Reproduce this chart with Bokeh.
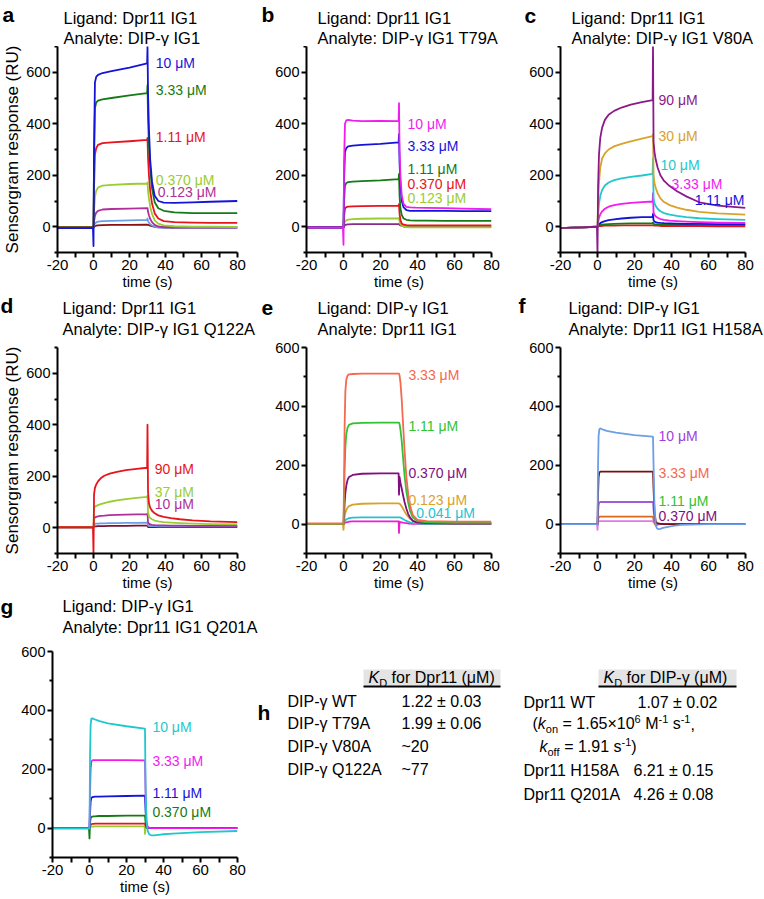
from bokeh.plotting import figure
from bokeh.models import Range1d, FixedTicker, Label
from bokeh.layouts import row, column
from bokeh.embed import file_html
from bokeh.resources import INLINE

FONT = "Liberation Sans"

# ---------------- data (time in s, response in RU) ----------------
T_AB = [-20, -0.3, 0.0, 0.3, 0.8, 1.5, 2.5, 5, 10, 20, 29.8, 30.0, 30.3, 30.8, 31.5, 32.5, 34, 36, 39, 45, 55, 65, 80]
T_CD = [-20, -0.3, 0.0, 0.3, 0.8, 1.5, 2.5, 4, 6, 9, 13, 18, 24, 29.8, 30.0, 30.3, 30.8, 31.5, 32.5, 34, 36, 39, 43, 48, 55, 65, 80]
T_EFG = [-20, -0.3, 0.0, 0.3, 0.6, 1.0, 1.5, 2.2, 3, 5, 10, 20, 29.8, 30.0, 30.3, 30.8, 31.5, 32.2, 33, 34, 35, 36, 37.5, 40, 45, 60, 80]

# a: Ligand Dpr11 IG1 / Analyte DIP-g IG1
A_10 = [-5, -5, -75, 300, 560, 582, 590, 597, 604, 618, 634, 700, 520, 380, 260, 175, 120, 100, 94, 93, 95, 97, 100]
A_333 = [-3, -3, -3, 250, 460, 482, 490, 495, 500, 510, 519, 550, 420, 320, 230, 150, 95, 72, 62, 56, 53, 53, 53]
A_111 = [-2, -2, -2, 150, 280, 305, 318, 325, 328, 332, 337, 345, 270, 200, 140, 90, 52, 32, 22, 18, 16, 15, 15]
A_037 = [-2, -2, -2, 60, 115, 140, 152, 160, 163, 166, 168, 172, 140, 110, 78, 50, 25, 12, 5, 2, 0, 0, -1]
A_012 = [-3, -3, -3, 20, 42, 55, 62, 67, 69, 70, 72, 72, 58, 45, 30, 18, 7, 1, -2, -3, -3, -3, -3]
A_004 = [-4, -4, -4, 5, 12, 17, 20, 22, 23, 25, 27, 32, 22, 16, 10, 5, 0, -3, -4, -5, -5, -5, -5]
A_001 = [-3, -3, -3, 0, 2, 4, 5, 6, 7, 7, 8, 8, 7, 6, 4, 2, 0, -1, -2, -2, -2, -2, -2]

# b: T79A
B_10 = [-3, -3, -70, 250, 400, 413, 415, 412, 410, 411, 410, 480, 300, 190, 120, 88, 77, 75, 74, 73, 72, 70, 68]
B_333 = [-3, -3, -3, 180, 290, 305, 312, 315, 318, 322, 328, 360, 250, 160, 100, 75, 65, 62, 62, 62, 62, 61, 61]
B_111 = [-2, -2, -2, 100, 160, 170, 173, 175, 177, 180, 185, 205, 120, 70, 45, 32, 27, 25, 24, 24, 23, 23, 23]
B_037 = [-2, -2, -2, 40, 70, 76, 78, 79, 80, 81, 82, 88, 50, 25, 12, 8, 6, 5, 5, 5, 5, 5, 5]
B_012 = [-3, -3, -3, 10, 20, 25, 28, 30, 31, 32, 32, 34, 20, 10, 4, 1, -1, -2, -2, -2, -2, -2, -2]
B_004 = [-2, -2, -2, 3, 6, 8, 9, 10, 10, 10, 10, 11, 8, 5, 3, 1, 0, 0, 0, 0, 0, 0, 0]

# c: V80A
C_90 = [-5, 0, -100, 150, 280, 345, 385, 415, 435, 450, 463, 474, 484, 492, 700, 330, 290, 260, 230, 200, 178, 158, 138, 118, 95, 82, 73]
C_30 = [-5, 0, 0, 80, 170, 230, 265, 285, 300, 312, 322, 332, 342, 352, 360, 200, 170, 150, 130, 110, 96, 84, 74, 66, 58, 52, 47]
C_10 = [-5, 0, 0, 40, 90, 120, 143, 160, 172, 181, 188, 194, 199, 205, 265, 110, 92, 80, 70, 60, 53, 47, 42, 37, 33, 30, 27]
C_333 = [-5, 0, 0, 15, 35, 48, 60, 70, 78, 84, 89, 93, 96, 98, 130, 55, 46, 40, 35, 30, 27, 24, 22, 20, 18, 16, 15]
C_111 = [-5, 0, 0, 5, 10, 14, 18, 22, 26, 29, 32, 35, 37, 38, 50, 25, 20, 18, 16, 15, 14, 13, 12, 11, 11, 10, 10]
C_037 = [-5, 0, 0, 2, 4, 6, 8, 9, 10, 11, 12, 13, 13, 14, 16, 11, 10, 9, 9, 8, 8, 7, 7, 7, 6, 6, 6]
C_012 = [-5, 0, 0, 1, 2, 3, 3, 4, 4, 4, 5, 5, 5, 5, 6, 5, 4, 4, 4, 3, 3, 3, 3, 3, 3, 2, 2]

# d: Q122A
D_90 = [2, 2, -100, 130, 155, 168, 180, 192, 202, 210, 217, 224, 229, 233, 400, 140, 95, 78, 66, 56, 48, 42, 37, 33, 29, 25, 22]
D_37 = [2, 2, 2, 78, 82, 85, 88, 92, 96, 101, 106, 111, 116, 120, 125, 60, 45, 38, 33, 28, 25, 22, 20, 18, 16, 14, 13]
D_10 = [2, 2, 2, 35, 40, 42, 44, 46, 47, 49, 50, 51, 52, 53, 55, 22, 16, 13, 11, 10, 9, 9, 8, 8, 7, 7, 7]
D_3 = [2, 2, 2, 12, 15, 16, 16, 17, 17, 18, 18, 19, 19, 20, 20, 9, 7, 6, 6, 6, 5, 5, 5, 5, 5, 5, 5]
D_1 = [2, 2, 2, 4, 5, 5, 6, 6, 6, 7, 7, 7, 8, 8, 8, 3, 3, 3, 3, 3, 3, 3, 3, 3, 3, 3, 3]

# e: Ligand DIP-g IG1 / Analyte Dpr11 IG1
E_333 = [2, 2, 2, 150, 330, 450, 490, 505, 509, 510, 511, 511, 511, 511, 505, 480, 420, 340, 250, 160, 100, 62, 30, 14, 10, 8, 8]
E_111 = [0, 0, 0, 80, 180, 260, 305, 328, 337, 342, 344, 345, 345, 345, 340, 320, 280, 225, 165, 110, 72, 44, 22, 10, 6, 4, 4]
E_037 = [0, 0, 0, 30, 70, 105, 130, 150, 160, 167, 171, 172, 172, 100, 160, 140, 120, 98, 75, 52, 34, 22, 11, 5, 3, 2, 2]
E_012 = [0, 0, -20, 10, 25, 38, 48, 56, 61, 66, 69, 70, 70, 70, 69, 66, 60, 52, 43, 33, 25, 18, 11, 5, 3, 2, 2]
E_004 = [0, 0, 0, 4, 9, 13, 16, 18, 20, 22, 23, 23, 23, 23, 23, 22, 20, 17, 14, 11, 8, 6, 4, 2, 1, 0, 0]
E_001 = [0, 0, 0, 2, 4, 5, 6, 7, 8, 9, 9, 9, 9, -30, 8, 7, 6, 5, 4, 3, 2, 2, 1, 1, 0, 0, 0]

# f: H158A
F_10 = [0, 0, 0, 200, 300, 322, 325, 323, 321, 317, 311, 302, 297, 296, 200, 60, -5, -15, -17, -16, -14, -12, -10, -7, -3, 0, 0]
F_333 = [0, 0, 0, 100, 160, 175, 178, 178, 178, 178, 178, 178, 178, 178, 120, 40, 8, 3, 2, 1, 1, 0, 0, 0, 0, 0, 0]
F_111 = [0, 0, 0, 40, 65, 73, 75, 75, 75, 75, 75, 75, 75, 75, 50, 15, 3, 1, 0, 0, 0, 0, 0, 0, 0, 0, 0]
F_037 = [0, 0, 0, 12, 22, 25, 25, 25, 25, 25, 25, 25, 25, 25, 15, 5, -5, -3, -1, 0, 0, 0, 0, 0, 0, 0, 0]
F_012 = [0, 0, -20, 5, 9, 10, 10, 10, 10, 10, 10, 10, 10, 10, 6, 2, 0, 0, 0, 0, 0, 0, 0, 0, 0, 0, 0]

# g: Q201A
G_10 = [-2, -2, -2, 250, 350, 372, 373, 371, 369, 364, 356, 346, 338, 337, 150, 20, -10, -20, -24, -25, -25, -24, -23, -21, -19, -14, -10]
G_333 = [0, 0, 0, 120, 200, 225, 230, 231, 231, 231, 231, 231, 230, 230, 120, 20, 3, 1, 1, 0, 0, 0, 0, 0, 0, 0, 0]
G_111 = [0, 0, 0, 50, 90, 102, 105, 106, 107, 107, 108, 109, 110, 110, 60, 10, 2, 1, 0, 0, 0, 0, 0, 0, 0, 0, 0]
G_037 = [0, 0, -35, 18, 32, 37, 39, 40, 40, 41, 41, 42, 42, 42, 20, 3, 0, 0, 0, 0, 0, 0, 0, 0, 0, 0, 0]
G_012 = [0, 0, 0, 6, 11, 13, 14, 14, 15, 15, 15, 15, 15, 15, 8, 2, 0, 0, 0, 0, 0, 0, 0, 0, 0, 0, 0]
G_004 = [0, 0, 0, 2, 4, 5, 5, 5, 6, 6, 6, 6, 6, -20, 3, 1, 0, 0, 0, 0, 0, 0, 0, 0, 0, 0, 0]

# concentration labels: (text, color, x [s], y [RU])
LAB_A = [("10 μM", "#1414d8", 34.6, 635), ("3.33 μM", "#157a15", 34.6, 530), ("1.11 μM", "#e8141c", 34.6, 349),
         ("0.370 μM", "#9acd32", 34.6, 182), ("0.123 μM", "#b0309a", 35.7, 136)]
LAB_B = [("10 μM", "#f01cf0", 34.6, 399), ("3.33 μM", "#1414d8", 34.6, 314), ("1.11 μM", "#157a15", 34.6, 225),
         ("0.370 μM", "#e8141c", 34.6, 167), ("0.123 μM", "#9acd32", 34.6, 112)]
LAB_C = [("90 μM", "#8a1a8a", 33.0, 492), ("30 μM", "#d9a22b", 33.0, 353), ("10 μM", "#1ec8cc", 34.0, 240),
         ("3.33 μM", "#f01cf0", 40.0, 166), ("1.11 μM", "#1414d8", 52.5, 105)]
LAB_D = [("90 μM", "#e8141c", 34.0, 229), ("37 μM", "#9acd32", 34.0, 140), ("10 μM", "#b0309a", 34.0, 93)]
LAB_E = [("3.33 μM", "#f5694f", 35.1, 508), ("1.11 μM", "#33c233", 35.1, 332), ("0.370 μM", "#80107f", 35.1, 173),
         ("0.123 μM", "#d9a22b", 35.1, 81), ("0.041 μM", "#22c4d4", 39.3, 37)]
LAB_F = [("10 μM", "#a040e0", 33.0, 298), ("3.33 μM", "#f5694f", 33.0, 173), ("1.11 μM", "#33c233", 33.0, 78),
         ("0.370 μM", "#80107f", 33.0, 27)]
LAB_G = [("10 μM", "#1ec8cc", 34.0, 345), ("3.33 μM", "#f01cf0", 34.0, 229), ("1.11 μM", "#1414d8", 34.0, 119),
         ("0.370 μM", "#157a15", 34.0, 55)]

TITLES = {
    "a": ("Ligand: Dpr11 IG1", "Analyte: DIP-γ IG1"),
    "b": ("Ligand: Dpr11 IG1", "Analyte: DIP-γ IG1 T79A"),
    "c": ("Ligand: Dpr11 IG1", "Analyte: DIP-γ IG1 V80A"),
    "d": ("Ligand: Dpr11 IG1", "Analyte: DIP-γ IG1 Q122A"),
    "e": ("Ligand: DIP-γ IG1", "Analyte: Dpr11 IG1"),
    "f": ("Ligand: DIP-γ IG1", "Analyte: Dpr11 IG1 H158A"),
    "g": ("Ligand: DIP-γ IG1", "Analyte: Dpr11 IG1 Q201A"),
}

X_TICKS = [-20, 0, 20, 40, 60, 80]
X_MINOR = [-10, 10, 30, 50, 70]
Y_TICKS = [0, 200, 400, 600]
Y_MINOR_700 = [-100, 100, 300, 500, 700]
Y_MINOR_600 = [-100, 100, 300, 500]

# table (panel h)
H_LEFT_NAMES = ["DIP-γ WT", "DIP-γ T79A", "DIP-γ V80A", "DIP-γ Q122A"]
H_LEFT_VALUES = ["1.22 ± 0.03", "1.99 ± 0.06", "~20", "~77"]
H_RIGHT_NAMES = ["Dpr11 WT", "Dpr11 H158A", "Dpr11 Q201A"]
H_RIGHT_VALUES = ["1.07 ± 0.02", "6.21 ± 0.15", "4.26 ± 0.08"]
H_KON = [("(", "n"), ("k", "i"), ("on", "sub"), (" = 1.65×10", "n"), ("6", "sup"), (" M", "n"), ("-1", "sup"),
         (" s", "n"), ("-1", "sup"), (",", "n")]
H_KOFF = [("k", "i"), ("off", "sub"), (" = 1.91 s", "n"), ("-1", "sup"), (")", "n")]
H_HEAD_L = [("K", "i"), ("D", "sub"), (" for Dpr11 (μM)", "n")]
H_HEAD_R = [("K", "i"), ("D", "sub"), (" for DIP-γ (μM)", "n")]

# ---------------- layout geometry (page pixels, page has no margin) ----------------
PAGE_W = 764
ROW_TOP = [0, 292, 594]
ROW_HEAD = [46, 46, 46]     # header strip (letters + titles) for each row
ROW_PLOT = [246, 256, 259]  # plot figure height
ROW_T = [0, 9, 11]
ROW_B = [40, 41, 42]
COL_LEFT = [0, 250, 500]
COL_W = [250, 250, 264]
COL_L = [52, 56, 60]
COL_R = [13, 9, 19]

ROW_KEYS = [["a", "b", "c"], ["d", "e", "f"], ["g"]]
LETTER_POS = {"a": (2, 14), "b": (261, 14), "c": (524, 15), "d": (0, 305), "e": (261, 307),
              "f": (518, 305), "g": (0, 606)}
TITLE_POS = {"a": (63, 17, 37.5), "b": (317, 17, 37.5), "c": (571, 17, 37.5), "d": (62, 307, 328),
             "e": (317, 307, 328), "f": (568, 307, 328), "g": (62, 605, 626)}


def no_align(p):
    try:
        p.frame_align = False
    except Exception:
        pass


def style_axes(p):
    for ax in (p.xaxis[0], p.yaxis[0]):
        ax.axis_line_width = 2
        ax.axis_line_color = "black"
        ax.major_tick_line_width = 2
        ax.minor_tick_line_width = 2
        ax.major_tick_line_color = "black"
        ax.minor_tick_line_color = "black"
        ax.major_tick_in = 0
        ax.minor_tick_in = 0
        ax.major_label_text_font = FONT
        ax.major_label_text_color = "black"
        ax.axis_label_text_font = FONT
        ax.axis_label_text_font_style = "normal"
        ax.axis_label_text_color = "black"
    p.xaxis.major_label_text_font_size = "15px"
    p.yaxis.major_label_text_font_size = "14.5px"
    p.xaxis.major_tick_out = 5
    p.xaxis.minor_tick_out = 5
    p.xaxis.major_label_standoff = 2
    p.xaxis.major_label_overrides = {-20: "-20"}
    p.yaxis.major_tick_out = 5
    p.yaxis.minor_tick_out = 3
    p.yaxis.major_label_standoff = 2
    p.xaxis.axis_label = "time (s)"
    p.xaxis.axis_label_text_font_size = "15px"
    p.xaxis.axis_label_standoff = 0


def make_header(r):
    H = ROW_HEAD[r]
    y0 = ROW_TOP[r]
    h = figure(width=PAGE_W, height=H, x_range=Range1d(0, PAGE_W), y_range=Range1d(H, 0),
               output_backend="svg", toolbar_location=None, title=None,
               x_axis_location=None, y_axis_location=None, min_border=0)
    no_align(h)
    h.outline_line_color = None
    h.grid.visible = False
    for key in ROW_KEYS[r]:
        lx, ly = LETTER_POS[key]
        h.add_layout(Label(x=lx, y=ly - y0, text=key, text_color="black", text_font=FONT,
                           text_font_size="21px", text_font_style="bold", text_align="left",
                           text_baseline="middle"))
        tx, ty1, ty2 = TITLE_POS[key]
        for line, ty in zip(TITLES[key], (ty1, ty2)):
            h.add_layout(Label(x=tx, y=ty - y0, text=line, text_color="black", text_font=FONT,
                               text_font_size="16.5px", text_align="left", text_baseline="middle"))
    return h


def make_panel(r, c, yr, yminor, t, curves, labels, ylabel=None):
    W, H = COL_W[c], ROW_PLOT[r]
    p = figure(width=W, height=H, x_range=Range1d(-20, 80), y_range=Range1d(*yr),
               output_backend="svg", toolbar_location=None, title=None,
               min_border_left=COL_L[c], min_border_right=COL_R[c],
               min_border_top=ROW_T[r], min_border_bottom=ROW_B[r])
    no_align(p)
    p.outline_line_color = None
    p.grid.visible = False
    p.background_fill_color = "white"
    p.border_fill_color = "white"
    p.xaxis.ticker = FixedTicker(ticks=X_TICKS, minor_ticks=X_MINOR)
    p.yaxis.ticker = FixedTicker(ticks=Y_TICKS, minor_ticks=yminor)
    style_axes(p)
    if ylabel:
        p.yaxis.axis_label = ylabel
        p.yaxis.axis_label_text_font_size = "17px"
        p.yaxis.axis_label_standoff = 1

    for vals, col in curves:
        p.line(t, vals, line_color=col, line_width=1.8, line_join="round")

    for text, col, x, y in labels:
        p.add_layout(Label(x=x, y=y, text=text, text_color=col, text_font=FONT, text_font_size="14px",
                           text_align="left", text_baseline="middle"))
    return p


pa = make_panel(0, 0, (-100, 700), Y_MINOR_700, T_AB,
                [(A_001, "#8b1010"), (A_004, "#6c9ee8"), (A_012, "#b0309a"), (A_037, "#9acd32"),
                 (A_111, "#e8141c"), (A_333, "#157a15"), (A_10, "#1414d8")], LAB_A,
                ylabel="Sensorgram response (RU)")
pb = make_panel(0, 1, (-100, 700), Y_MINOR_700, T_AB,
                [(B_004, "#8b2a8b"), (B_012, "#9acd32"), (B_037, "#e8141c"), (B_111, "#157a15"),
                 (B_333, "#1414d8"), (B_10, "#f01cf0")], LAB_B)
pc = make_panel(0, 2, (-100, 700), Y_MINOR_700, T_CD,
                [(C_012, "#e8141c"), (C_037, "#157a15"), (C_111, "#1414d8"), (C_333, "#f01cf0"),
                 (C_10, "#1ec8cc"), (C_30, "#d9a22b"), (C_90, "#8a1a8a")], LAB_C)
pd = make_panel(1, 0, (-100, 700), Y_MINOR_700, T_CD,
                [(D_1, "#7a1030"), (D_3, "#6c9ee8"), (D_10, "#b0309a"), (D_37, "#9acd32"),
                 (D_90, "#e8141c")], LAB_D, ylabel="Sensorgram response (RU)")
pe = make_panel(1, 1, (-100, 600), Y_MINOR_600, T_EFG,
                [(E_001, "#f01cd0"), (E_004, "#22c4d4"), (E_012, "#d9a22b"), (E_037, "#80107f"),
                 (E_111, "#33c233"), (E_333, "#f5694f")], LAB_E)
pf = make_panel(1, 2, (-100, 600), Y_MINOR_600, T_EFG,
                [(F_012, "#e07ae6"), (F_037, "#d86a1e"), (F_111, "#a45bd9"), (F_333, "#7a0f0f"),
                 (F_10, "#6c9ee8")], LAB_F)
pg = make_panel(2, 0, (-100, 600), Y_MINOR_600, T_EFG,
                [(G_004, "#9acd32"), (G_012, "#e8141c"), (G_037, "#157a15"), (G_111, "#1414d8"),
                 (G_333, "#f01cf0"), (G_10, "#1ec8cc")], LAB_G)

# ---------------- panel h: table ----------------
HX0 = 250
HY0 = ROW_TOP[2] + ROW_HEAD[2]
HW, HH = PAGE_W - HX0, ROW_PLOT[2]
ph = figure(width=HW, height=HH, x_range=Range1d(0, HW), y_range=Range1d(HH, 0),
            output_backend="svg", toolbar_location=None, title=None,
            x_axis_location=None, y_axis_location=None, min_border=0)
no_align(ph)
ph.outline_line_color = None
ph.grid.visible = False

CW = {' ': 278, '(': 333, ')': 333, '=': 584, '.': 278, ',': 278, '×': 584, '-': 333, '±': 584,
      'D': 722, 'M': 833, 'K': 667, 'I': 278, 'P': 667, 'f': 278, 'o': 556, 'r': 333, 'n': 556,
      's': 500, 'p': 556, 'k': 500, 'γ': 500, 'μ': 577}


def tw(s, size):
    return sum(CW.get(ch, 556) for ch in s) * size / 1000.0


def put(x, y, text, size=16, style="normal"):
    ph.add_layout(Label(x=x - HX0, y=y - HY0, text=text, text_font=FONT, text_font_size=f"{size}px",
                        text_font_style=style, text_baseline="middle", text_align="left",
                        text_color="black"))


def rich(x, yc, parts):
    for text, kind in parts:
        size = 16 if kind in ("n", "i") else 11
        lead = len(text) - len(text.lstrip(" "))
        x += lead * 278 * size / 1000.0
        core = text.strip(" ")
        shift = {"n": 0, "i": 0, "sub": 5, "sup": -5}[kind]
        put(x, yc + shift, core, size, "italic" if kind == "i" else "normal")
        x += tw(core, size)


BOX_L = [363, 598]
BOX_R = [500, 736]
ph.quad(left=[v - HX0 for v in BOX_L], right=[v - HX0 for v in BOX_R], top=[669 - HY0] * 2,
        bottom=[685 - HY0] * 2, fill_color="#e4e4e4", line_color=None)
ph.segment(x0=[v - HX0 for v in BOX_L], x1=[v - HX0 for v in BOX_R], y0=[686 - HY0] * 2,
           y1=[686 - HY0] * 2, line_color="black", line_width=2)

rich(368, 677, H_HEAD_L)
rich(603, 677, H_HEAD_R)
for name, val, yc in zip(H_LEFT_NAMES, H_LEFT_VALUES, [701, 723, 746, 769]):
    put(287, yc, name)
    put(401, yc, val)
put(523, 702, H_RIGHT_NAMES[0])
put(637, 702, H_RIGHT_VALUES[0])
rich(532, 723, H_KON)
rich(539, 746, H_KOFF)
for name, val, yc in zip(H_RIGHT_NAMES[1:], H_RIGHT_VALUES[1:], [770, 794]):
    put(523, yc, name)
    put(633, yc, val)
put(257, 712, "h", 21, "bold")

layout = column(
    make_header(0), row(pa, pb, pc),
    make_header(1), row(pd, pe, pf),
    make_header(2), row(pg, ph),
)
open("out.html", "w").write(file_html(layout, INLINE))
